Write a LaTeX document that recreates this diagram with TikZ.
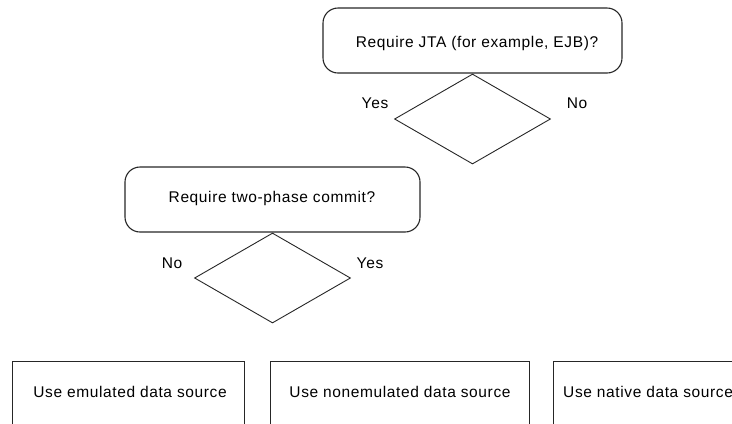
\documentclass[tikz,border=0pt]{standalone}
\usepackage{fontspec}
\setmainfont{Liberation Sans}[LetterSpace=4]
\usetikzlibrary{shapes.geometric}
\begin{document}
\begin{tikzpicture}[x=1bp,y=-1bp,
  txt/.style={font=\fontsize{15.5bp}{17bp}\selectfont, text=black, inner sep=0},
  question/.style={draw=black!85, line width=1.1bp, rounded corners=15bp, inner sep=0},
  choice/.style={draw=black!85, line width=0.9bp, shape=diamond, inner sep=0,
     minimum width=156bp, minimum height=90bp},
  result/.style={draw=black!85, line width=1.2bp, inner sep=0, anchor=north west},
  lbl/.style={txt}]
\useasboundingbox (0,0) rectangle (732,423);
\clip (0,0) rectangle (732,423);
% top question
\node[question, minimum width=299bp, minimum height=65bp] (q1) at (472.5,40.5) {};
\node[txt] (q1t) at (477,43) {Require JTA (for example, EJB)?};
\node[choice, anchor=north] (d1) at (q1.south) {};
\node[lbl] (y1) at (375,103) {Yes};
\node[lbl] (n1) at (577,103) {No};
% second question
\node[question, minimum width=295bp, minimum height=65bp] (q2) at (272.5,199.5) {};
\node[txt] (q2t) at (272,198) {Require two-phase commit?};
\node[choice, anchor=north] (d2) at (q2.south) {};
\node[lbl] (n2) at (172,263) {No};
\node[lbl] (y2) at (370,263) {Yes};
% results
\node[result, minimum width=232bp, minimum height=90bp] (r1) at (12,361) {};
\node[txt] (r1t) at (130,392) {Use emulated data source};
\node[result, minimum width=259bp, minimum height=90bp] (r2) at (270,361) {};
\node[txt] (r2t) at (400,392) {Use nonemulated data source};
\node[result, minimum width=200bp, minimum height=90bp] (r3) at (553,361) {};
\node[txt, anchor=west] (r3t) at (563,392) {Use native data source};
\end{tikzpicture}
\end{document}
